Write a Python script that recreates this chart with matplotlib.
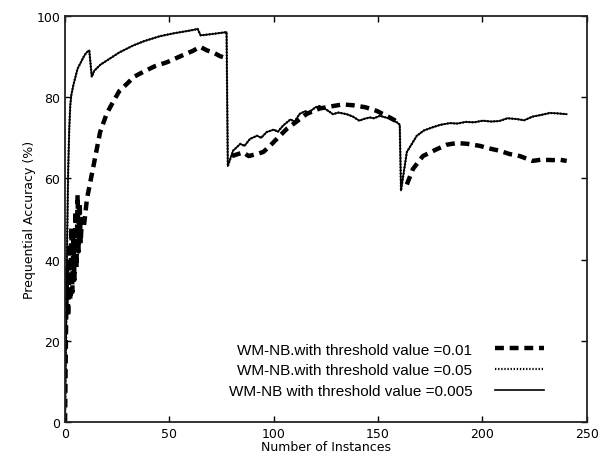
import matplotlib
matplotlib.use("Agg")
import matplotlib.pyplot as plt

nan = float('nan')

# Series: WM-NB with threshold 0.005 (solid)
x_005 = [0, 0.5, 1, 1.5, 2, 2.5, 3, 4, 5, 6, 7, 8, 9, 10, 11, 11.6, 12.8, 14, 17, 21.5, 26, 32.6, 38,
         45.5, 52, 60, 62, 63.5, 65, 70, 77.4, 78, 80.5, 84, 86, 88.6, 92, 94, 96.6, 100, 102, 104.5,
         108, 110, 112.5, 115, 117, 120, 122, 125, 128.4, 131, 135, 138, 141, 143, 146, 148, 150.9,
         155, 159, 160.4, 161, 163.8, 168.6, 172, 176.3, 180, 184.4, 188, 192, 196, 200.2, 204, 208,
         212, 216.5, 220, 224, 228, 232.3, 236, 240.4]
y_005 = [0, 20, 45, 62, 72, 78, 80.5, 83, 85, 87, 88, 89, 90, 90.8, 91.3, 91.5, 85, 86.5, 88, 89.5, 91,
         92.7, 93.8, 95, 95.7, 96.4, 96.6, 96.8, 95.2, 95.5, 96, 63, 66.8, 68.5, 68, 69.7, 70.5, 70,
         71.4, 72, 71.5, 73, 74.5, 74, 75.9, 76.5, 76.3, 77.5, 77.8, 77, 75.8, 76.2, 75.8, 75.2, 74.2,
         74.6, 75, 74.8, 75.4, 74.8, 73.8, 73.2, 57, 66.5, 70.5, 71.8, 72.6, 73.2, 73.6, 73.5, 73.9,
         73.8, 74.2, 74.0, 74.1, 74.8, 74.6, 74.3, 75.2, 75.6, 76.1, 76.0, 75.8]

# Series: WM-NB with threshold 0.05 (dotted) -- overlaps the 0.005 curve
x_05 = list(x_005)
y_05 = list(y_005)

# Series: WM-NB with threshold 0.01 (dashed); nan = break in the drawn curve
x_01 = [0, 0.5, 1, 1.5, 2, 2.5, 3, 3.5, 4, 4.5, 5, 5.5, 6, 6.5, 7, 7.5, 8, 9, 10.5, 13.6, 16.8, 20,
        23, 26, 29.7, 33, 37.4, 43, 48.9, 55, 61.3, 64.7, 68, 71, 74.2, 76, 78, 80, 85.3, 88, 91.9,
        95, 98.2, 102, 106.3, 111, 115.9, 122, 128.4, 133, 138, 144, 149.4, 155.6, 159, 161, 163.8,
        166.7, 171.5, 178.2, 183, 187.7, 193, 198.8, 203, 208.3, 213, 217.9, 224.1, 228, 233.7, 237,
        240.4]
y_01 = [0, 25, 38, 26, 44, 30, 48, 32, 46, 35, 52, 38, 56, 42, 54, 44, 50, 48, 55, 63, 71.4, 76,
        78.8, 81.5, 83.3, 85, 86.2, 87.6, 88.6, 90, 91.4, 92.4, 91.5, 91, 90.1, 89.8, nan, 65.5, 66.4,
        65.5, 66, 66.5, 68, 70, 72.2, 74, 75.9, 77.2, 77.8, 78.2, 78, 77.5, 76.6, 75, 74, nan, 58.5,
        62.3, 65.5, 67.2, 68.3, 68.7, 68.5, 68, 67.4, 66.8, 66, 65.5, 64.3, 64.6, 64.5, 64.6, 64.3]

labels = ["WM-NB.with threshold value =0.01",
          "WM-NB.with threshold value =0.05",
          "WM-NB with threshold value =0.005"]
x_ticks = [0, 50, 100, 150, 200, 250]
y_ticks = [0, 20, 40, 60, 80, 100]

plt.rcParams['font.family'] = ['DejaVu Sans']
fig = plt.figure(figsize=(6.08, 4.56), dpi=100)
ax = fig.add_axes([0.107, 0.072, 0.858, 0.891])

l1, = ax.plot(x_01, y_01, color='black', lw=3.2, linestyle=(0, (2.0, 1.3)), label=labels[0])
l3, = ax.plot(x_005, y_005, color='black', lw=1.2, linestyle='-', label=labels[2])
l2, = ax.plot(x_05, y_05, color='black', lw=1.6, linestyle=(0, (0.6, 0.8)), label=labels[1])

ax.set_xlim(0, 250)
ax.set_ylim(0, 100)
ax.set_xticks(x_ticks)
ax.set_yticks(y_ticks)
ax.tick_params(direction='in', top=True, right=True, labelsize=9, length=4, width=1)
for s in ax.spines.values():
    s.set_linewidth(1.3)
    s.set_color('#222222')

ax.set_xlabel("Number of Instances", fontsize=9, labelpad=0)
ax.set_ylabel("Prequential Accuracy (%)", fontsize=9, labelpad=0)

leg = ax.legend([l1, l2, l3], labels, loc='lower right', bbox_to_anchor=(0.945, 0.025),
                frameon=False, markerfirst=False, handlelength=3.2,
                prop={'family': 'Liberation Sans', 'size': 11}, labelspacing=0.45,
                handletextpad=1.5)

fig.savefig("out.png", dpi=100)
